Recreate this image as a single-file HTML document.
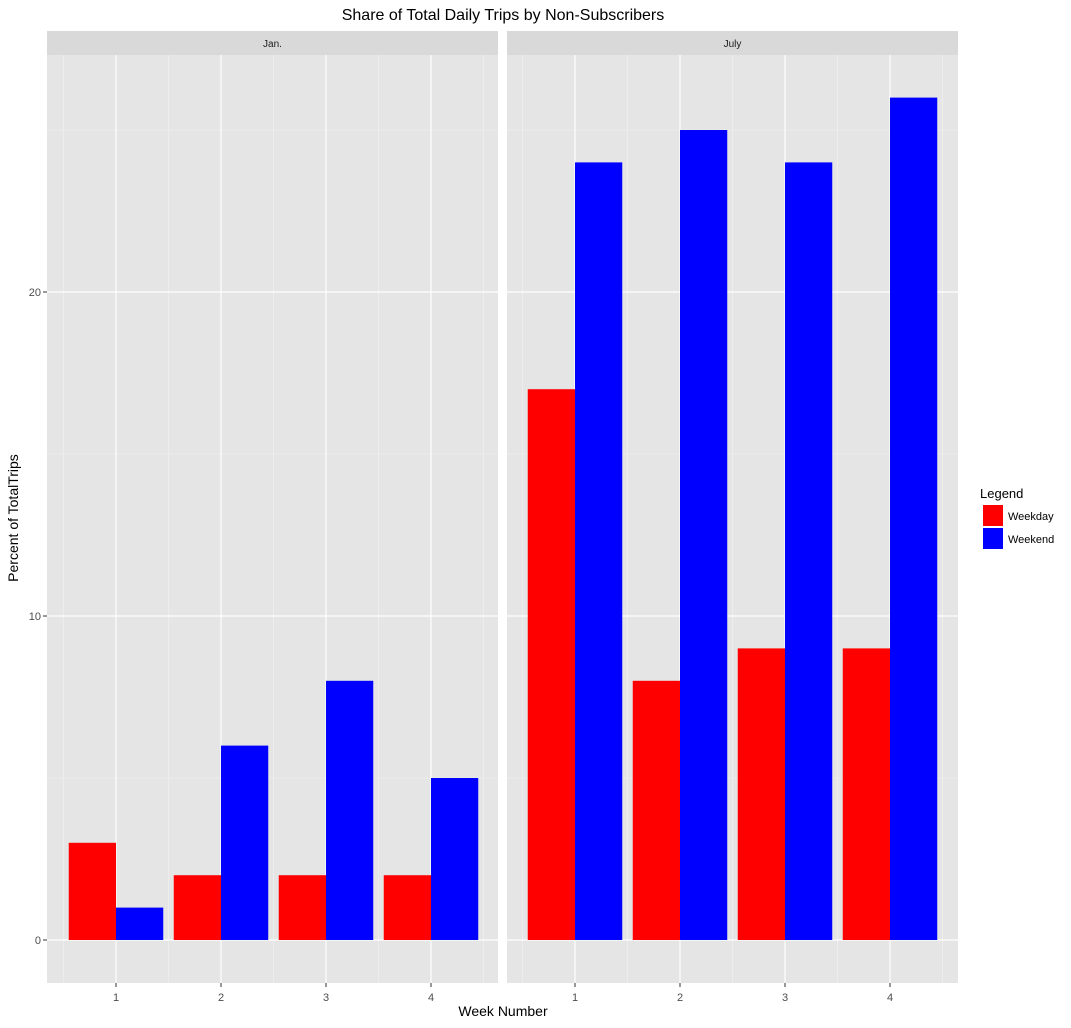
<!DOCTYPE html>
<html><head><meta charset="utf-8"><style>
body{margin:0;background:#fff;font-family:"Liberation Sans",Arial,sans-serif}
</style></head><body>
<svg id="chart" width="1071" height="1023" xmlns="http://www.w3.org/2000/svg" font-family="Liberation Sans, Arial, sans-serif">
<text x="503" y="20" text-anchor="middle" font-size="16" fill="#000">Share of Total Daily Trips by Non-Subscribers</text>
<g id="panels"></g>
<text x="503" y="1016" text-anchor="middle" font-size="14" fill="#000">Week Number</text>
<text transform="translate(18,518) rotate(-90)" text-anchor="middle" font-size="14" fill="#000">Percent of TotalTrips</text>
<g>
<text x="980" y="498" font-size="13">Legend</text>
<rect x="983" y="505" width="20" height="21" fill="#ff0000"/>
<text x="1008" y="520" font-size="11">Weekday</text>
<rect x="983" y="528" width="20" height="21" fill="#0000ff"/>
<text x="1008" y="543" font-size="11">Weekend</text>
</g>
</svg>
<script>
const months = ["Jan.", "July"];
const weeks = [1, 2, 3, 4];
const janWeekday = [3, 2, 2, 2];
const janWeekend = [1, 6, 8, 5];
const julWeekday = [17, 8, 9, 9];
const julWeekend = [24, 25, 24, 26];
const yTicks = [0, 10, 20];
const yMinor = [5, 15, 25];

const NS = "http://www.w3.org/2000/svg";
const g = document.getElementById("panels");
function mk(tag, attrs, parent) {
  const e = document.createElementNS(NS, tag);
  for (const k in attrs) e.setAttribute(k, attrs[k]);
  (parent || g).appendChild(e);
  return e;
}
const yS = v => 940 - v * 32.4;
const panelX = [47, 507], panelW = 451, plotTop = 55, plotBottom = 983;
const centerOff = [69, 68];
const series = [[janWeekday, janWeekend], [julWeekday, julWeekend]];
months.forEach((m, p) => {
  const x0 = panelX[p];
  const xS = c => x0 + centerOff[p] + (c - 1) * 105;
  const bg = mk("rect", {x: x0, y: plotTop, width: panelW, height: plotBottom - plotTop, fill: "#e5e5e5"});
  
  
  const strip = mk("rect", {x: x0, y: 31, width: panelW, height: 24, fill: "#d9d9d9"});
  
  
  const st = mk("text", {x: x0 + panelW / 2, y: 47, "text-anchor": "middle", "font-size": 10, fill: "#1a1a1a"});
  st.textContent = m;
  
  
  yMinor.forEach(v => { const l = mk("line", {x1: x0, x2: x0 + panelW, y1: yS(v), y2: yS(v), stroke: "#f2f2f2", "stroke-width": 0.6});
      });
  for (let i = 0; i <= weeks.length; i++) { const xv = xS(0.5 + i);
    const l = mk("line", {x1: xv, x2: xv, y1: plotTop, y2: plotBottom, stroke: "#f2f2f2", "stroke-width": 0.6});
      }
  yTicks.forEach(v => { const l = mk("line", {x1: x0, x2: x0 + panelW, y1: yS(v), y2: yS(v), stroke: "#fff", "stroke-width": 1.2});
      });
  weeks.forEach(w => {
    const l = mk("line", {x1: xS(w), x2: xS(w), y1: plotTop, y2: plotBottom, stroke: "#fff", "stroke-width": 1.2});
     
    const tk = mk("line", {x1: xS(w), x2: xS(w), y1: plotBottom, y2: plotBottom + 4, stroke: "#333"});
     
    const t = mk("text", {x: xS(w), y: 1001, "text-anchor": "middle", "font-size": 11, fill: "#4d4d4d"});
    t.textContent = w;
     
  });
  const [wd, we] = series[p];
  weeks.forEach((w, i) => {
    const c = xS(w);
    const b1 = mk("rect", {x: c - 47.25, y: yS(wd[i]), width: 47.25, height: yS(0) - yS(wd[i]), fill: "#ff0000"});
     
    const b2 = mk("rect", {x: c, y: yS(we[i]), width: 47.25, height: yS(0) - yS(we[i]), fill: "#0000ff"});
     
  });
});
yTicks.forEach(v => {
  const tk = mk("line", {x1: 43, x2: 47, y1: yS(v), y2: yS(v), stroke: "#333"});
   
  const t = mk("text", {x: 41, y: yS(v) + 4, "text-anchor": "end", "font-size": 11, fill: "#4d4d4d"});
  t.textContent = v;
   
});
</script>
</body></html>
